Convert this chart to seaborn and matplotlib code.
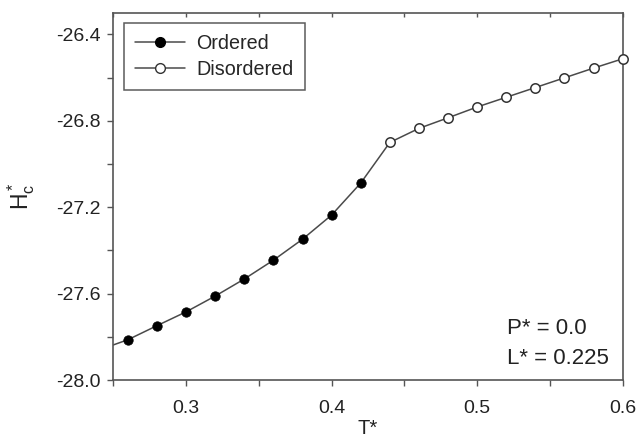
import pandas as pd
import matplotlib
matplotlib.use('Agg')
import matplotlib.pyplot as plt
from matplotlib.ticker import MultipleLocator, FormatStrFormatter
from matplotlib.lines import Line2D
import seaborn as sns

# reduced temperature and configurational enthalpy
t_ordered = [0.24, 0.26, 0.28, 0.30, 0.32, 0.34, 0.36, 0.38, 0.40, 0.42]
h_ordered = [-27.861, -27.813, -27.748, -27.684, -27.611, -27.532, -27.445,
             -27.348, -27.236, -27.088]
t_disordered = [0.44, 0.46, 0.48, 0.50, 0.52, 0.54, 0.56, 0.58, 0.60]
h_disordered = [-26.900, -26.835, -26.786, -26.736, -26.691, -26.646,
                -26.601, -26.556, -26.513]

df = pd.DataFrame({
    'T': t_ordered + t_disordered,
    'H': h_ordered + h_disordered,
    'phase': ['Ordered'] * len(t_ordered) + ['Disordered'] * len(t_disordered),
})

sns.set_style('ticks')
plt.rcParams['font.family'] = ['Liberation Sans', 'DejaVu Sans']
plt.rcParams['mathtext.fontset'] = 'custom'
plt.rcParams['mathtext.rm'] = 'Liberation Sans'
plt.rcParams['mathtext.it'] = 'Liberation Sans'

line_col = '#4a4a4a'
fig = plt.figure(figsize=(6.4, 4.4), dpi=100)
ax = fig.add_axes([0.177, 0.136, 0.796, 0.835])

# one continuous line through both phases
sns.lineplot(data=df, x='T', y='H', ax=ax, color=line_col, lw=1.1,
             estimator=None, sort=True)

ordd = df[df['phase'] == 'Ordered']
dis = df[df['phase'] == 'Disordered']
sns.scatterplot(data=ordd.iloc[1:], x='T', y='H', ax=ax, color='black',
                edgecolor='black', s=46, zorder=3, clip_on=False)
sns.scatterplot(data=dis, x='T', y='H', ax=ax, color='white',
                edgecolor='#333333', linewidth=1.1, s=46, zorder=3, clip_on=False)

ax.set_xlim(0.25, 0.6)
ax.set_ylim(-28.0, -26.3)
ax.xaxis.set_major_locator(MultipleLocator(0.1))
ax.xaxis.set_minor_locator(MultipleLocator(0.05))
ax.yaxis.set_major_locator(MultipleLocator(0.4))
ax.yaxis.set_minor_locator(MultipleLocator(0.2))
ax.xaxis.set_major_formatter(FormatStrFormatter('%.1f'))
ax.yaxis.set_major_formatter(FormatStrFormatter('%.1f'))
ax.tick_params(which='both', direction='out', length=4, width=1,
               color='#555555', labelsize=14, labelcolor='#222222')
ax.tick_params(axis='y', pad=5)
ax.tick_params(axis='x', pad=10)

top = ax.secondary_xaxis('top')
top.xaxis.set_major_locator(MultipleLocator(0.05))
top.tick_params(direction='in', length=3, width=1, color='#555555',
                labeltop=False)
top.spines['top'].set_visible(False)

for sp in ax.spines.values():
    sp.set_color('#555555')
    sp.set_linewidth(1.2)

ax.set_xlabel('T*', fontsize=14.5, color='#222222', labelpad=2)
ax.set_ylabel(r'$\mathregular{H_c^*}$', fontsize=16.5, color='#222222', labelpad=14)

handles = [
    Line2D([], [], color=line_col, lw=1.1, marker='o', ms=7,
           mfc='black', mec='black'),
    Line2D([], [], color=line_col, lw=1.1, marker='o', ms=7,
           mfc='white', mec='#333333'),
]
leg = ax.legend(handles, ['Ordered', 'Disordered'], loc='upper left',
                bbox_to_anchor=(0.022, 0.973), fontsize=14.2, frameon=True,
                fancybox=False, handlelength=2.5, handletextpad=0.6,
                borderpad=0.55, labelspacing=0.38, borderaxespad=0)
leg.get_frame().set_edgecolor('#333333')
leg.get_frame().set_linewidth(1.1)

ax.text(0.772, 0.125, 'P* = 0.0', transform=ax.transAxes, fontsize=16,
        color='#222222')
ax.text(0.772, 0.045, 'L* = 0.225', transform=ax.transAxes, fontsize=16,
        color='#222222')

fig.savefig('out.png', dpi=100)
